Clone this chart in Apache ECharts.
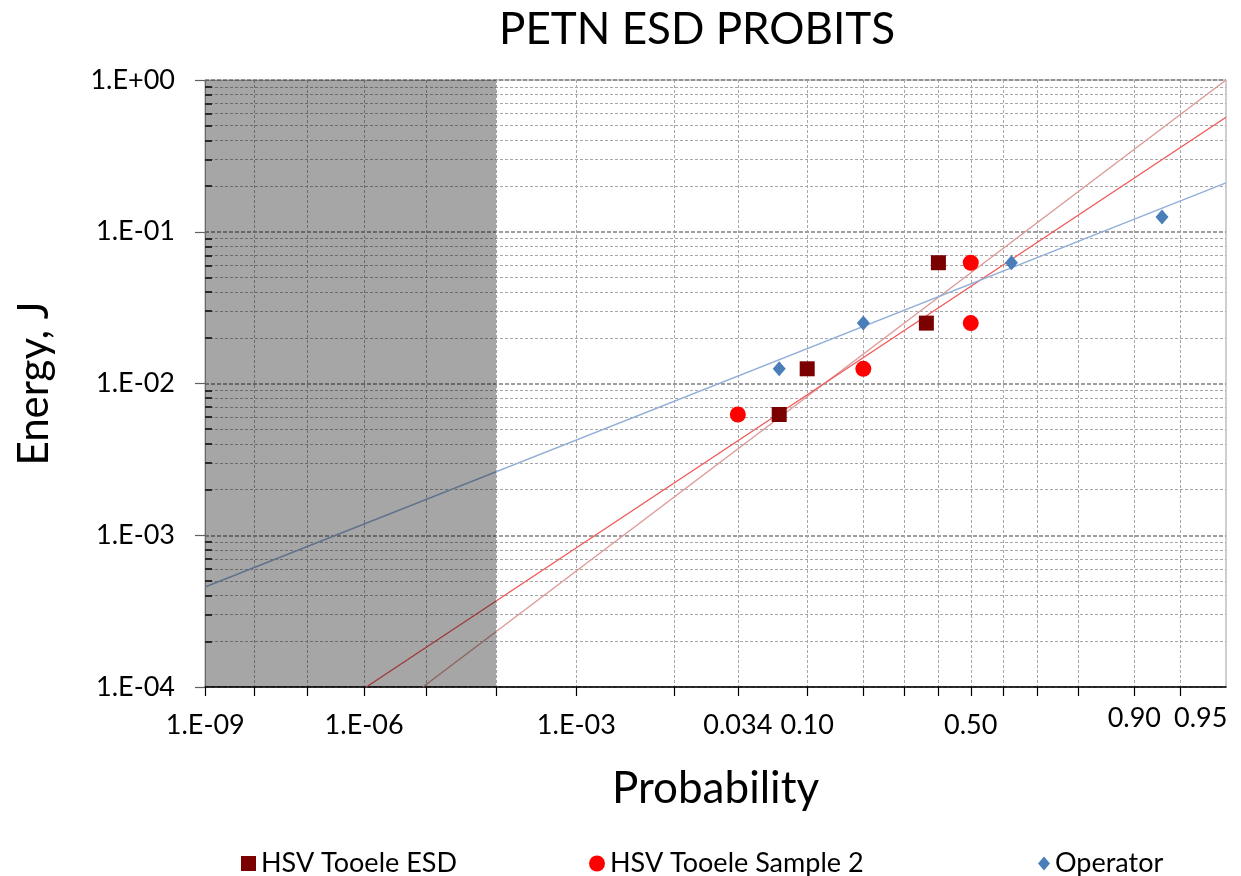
<!DOCTYPE html>
<html>
<head>
<meta charset="utf-8">
<title>PETN ESD PROBITS</title>
<script src="https://cdn.jsdelivr.net/npm/echarts@6/dist/echarts.min.js"></script>
<style>
  html, body { margin: 0; padding: 0; background: #fff; }
  #chart { width: 1241px; height: 876px; }
</style>
</head>
<body>
<div id="chart"></div>
<script>
// measured points: probability of initiation vs. spark energy (J)
var esdProb = [0.0667, 0.10, 0.364, 0.40];
var esdEnergy = [0.00625, 0.0125, 0.025, 0.0625];
var sample2Prob = [0.034, 0.20, 0.50, 0.50];
var sample2Energy = [0.00625, 0.0125, 0.025, 0.0625];
var operatorProb = [0.0667, 0.20, 0.625, 0.933];
var operatorEnergy = [0.0125, 0.025, 0.0625, 0.125];

// probit trend lines, end points (probability, energy)
var esdFitProb = [8.8e-6, 0.97725];
var esdFitEnergy = [1e-4, 1.0];
var sample2FitProb = [1.09e-6, 0.97725];
var sample2FitEnergy = [1e-4, 0.568];
var operatorFitProb = [9.87e-10, 0.97725];
var operatorFitEnergy = [4.56e-4, 0.210];

// shaded (not reachable) probability range
var shadeProb = [9.87e-10, 1e-4];

// x axis ticks / labels (probability)
var xTickProbs = [1e-9, 1e-8, 1e-7, 1e-6, 1e-5, 1e-4, 1e-3, 1e-2, 0.034, 0.1, 0.2, 0.3, 0.4, 0.5, 0.6, 0.7, 0.8, 0.9, 0.95];
var xLabelProbs = [1e-9, 1e-6, 1e-3, 0.034, 0.10, 0.50, 0.90, 0.95];
var xLabelText = ['1.E-09', '1.E-06', '1.E-03', '0.034', '0.10', '0.50', '0.90', '0.95'];

var zMin = -6, zMax = 2;   // probit axis range
var yMin = 1e-4, yMax = 1;

// inverse normal cdf (Acklam)
function probit(p) {
  var a = [-3.969683028665376e+01, 2.209460984245205e+02, -2.759285104469687e+02, 1.383577518672690e+02, -3.066479806614716e+01, 2.506628277459239e+00];
  var b = [-5.447609879822406e+01, 1.615858368580409e+02, -1.556989798598866e+02, 6.680131188771972e+01, -1.328068155288572e+01];
  var c = [-7.784894002430293e-03, -3.223964580411365e-01, -2.400758277161838e+00, -2.549732539343734e+00, 4.374664141464968e+00, 2.938163982698783e+00];
  var d = [7.784695709041462e-03, 3.224671290700398e-01, 2.445134137142996e+00, 3.754408661907416e+00];
  var plow = 0.02425, q, r;
  if (p < plow) {
    q = Math.sqrt(-2 * Math.log(p));
    return (((((c[0]*q+c[1])*q+c[2])*q+c[3])*q+c[4])*q+c[5]) / ((((d[0]*q+d[1])*q+d[2])*q+d[3])*q+1);
  }
  if (p > 1 - plow) {
    q = Math.sqrt(-2 * Math.log(1 - p));
    return -(((((c[0]*q+c[1])*q+c[2])*q+c[3])*q+c[4])*q+c[5]) / ((((d[0]*q+d[1])*q+d[2])*q+d[3])*q+1);
  }
  q = p - 0.5; r = q * q;
  return (((((a[0]*r+a[1])*r+a[2])*r+a[3])*r+a[4])*r+a[5])*q / (((((b[0]*r+b[1])*r+b[2])*r+b[3])*r+b[4])*r+1);
}

function toPoints(probs, energies) {
  return probs.map(function (p, i) { return [probit(p), energies[i]]; });
}

var xTickZ = xTickProbs.map(probit);
var xLabelZ = xLabelProbs.map(probit);

var yMinorTicks = [];
for (var e = -4; e < 0; e++) {
  for (var k = 2; k <= 9; k++) yMinorTicks.push(k * Math.pow(10, e));
}

function xLabel(v) {
  for (var i = 0; i < xLabelZ.length; i++) {
    if (Math.abs(xLabelZ[i] - v) < 1e-6) {
      // Excel set the two right labels a bit higher, last one pushed right
      var p = xLabelProbs[i];
      var tag = p >= 0.95 ? 'last' : (p >= 0.9 ? 'hi' : 'lo');
      return '{' + tag + '|' + xLabelText[i] + '}';
    }
  }
  return '';
}

function yLabel(v) {
  var ex = Math.round(Math.log(v) / Math.LN10);
  var s = Math.abs(ex) < 10 ? '0' + Math.abs(ex) : '' + Math.abs(ex);
  return '1.E' + (ex < 0 ? '-' : '+') + s;
}

var font = 'Lato';
var chart = echarts.init(document.getElementById('chart'));

chart.setOption({
  animation: false,
  backgroundColor: '#fff',
  textStyle: { fontFamily: font },
  title: {
    text: 'PETN ESD PROBITS',
    left: 494,
    top: 3,
    textStyle: { fontSize: 44, fontWeight: 'normal', color: '#000', fontFamily: font }
  },
  grid: {
    left: 205, right: 15, top: 80, bottom: 189,
    show: true, borderColor: '#a0a0a0', borderWidth: 1, backgroundColor: 'transparent'
  },
  legend: [
    { data: ['HSV Tooele ESD'], left: 236, top: 845, itemWidth: 15, itemHeight: 15,
      textStyle: { fontSize: 27, color: '#000', fontFamily: font } },
    { data: ['HSV Tooele Sample 2'], left: 584, top: 845, itemWidth: 16, itemHeight: 16,
      textStyle: { fontSize: 27, color: '#000', fontFamily: font } },
    { data: ['Operator'], left: 1033, top: 845, itemWidth: 12, itemHeight: 14,
      textStyle: { fontSize: 27, color: '#000', fontFamily: font } }
  ],
  xAxis: {
    type: 'value',
    min: zMin, max: zMax,
    name: 'Probability',
    nameLocation: 'middle',
    nameGap: 80,
    nameTextStyle: { fontSize: 44, color: '#000', fontFamily: font },
    axisLine: { show: true, onZero: false, lineStyle: { color: '#000', width: 1.5 } },
    axisTick: { show: true, customValues: xTickZ, length: 9, lineStyle: { color: '#000', width: 1.2 } },
    axisLabel: {
      customValues: xLabelZ,
      formatter: xLabel,
      showMinLabel: true,
      showMaxLabel: true,
      hideOverlap: false,
      margin: 18,
      color: '#000',
      fontSize: 27,
      rich: {
        lo: { fontSize: 27, color: '#000', fontFamily: font, padding: [7, 0, 0, 0] },
        hi: { fontSize: 27, color: '#000', fontFamily: font, padding: [0, 0, 0, 0] },
        last: { fontSize: 27, color: '#000', fontFamily: font, padding: [0, 0, 0, 40] }
      }
    },
    splitLine: { show: true, lineStyle: { color: '#a6a6a6', type: [3, 2], width: 1 } }
  },
  yAxis: [
    {
      type: 'log', logBase: 10,
      min: yMin, max: yMax,
      name: 'Energy, J',
      nameLocation: 'middle',
      nameGap: 150,
      nameTextStyle: { fontSize: 42, color: '#000', fontFamily: font },
      axisLine: { show: true, onZero: false, lineStyle: { color: '#a0a0a0' } },
      axisTick: { show: true, length: 10, lineStyle: { color: '#606060', width: 1.2 } },
      axisLabel: { formatter: yLabel, fontSize: 27, color: '#000', margin: 30 },
      splitLine: { show: true, lineStyle: { color: '#7f7f7f', type: [4, 2], width: 1.6 } }
    },
    {
      type: 'log', logBase: 10,
      min: yMin, max: yMax,
      position: 'left',
      axisLine: { show: false, onZero: false },
      axisLabel: { show: false },
      axisTick: { show: true, inside: true, length: 7, customValues: yMinorTicks,
        lineStyle: { color: '#404040', width: 2 } },
      splitLine: { show: true, lineStyle: { color: '#a6a6a6', type: [3, 2], width: 1 } }
    }
  ],
  series: [
    {
      name: 'ESD fit', type: 'line', silent: true, showSymbol: false, z: 2,
      data: toPoints(esdFitProb, esdFitEnergy),
      lineStyle: { color: '#dc9a98', width: 1.4 }
    },
    {
      name: 'Sample 2 fit', type: 'line', silent: true, showSymbol: false, z: 2,
      data: toPoints(sample2FitProb, sample2FitEnergy),
      lineStyle: { color: '#f05a5a', width: 1.4 }
    },
    {
      name: 'Operator fit', type: 'line', silent: true, showSymbol: false, z: 2,
      data: toPoints(operatorFitProb, operatorFitEnergy),
      lineStyle: { color: '#92afd8', width: 1.4 }
    },
    {
      name: 'HSV Tooele ESD', type: 'scatter', symbol: 'rect', symbolSize: 15, z: 3,
      data: toPoints(esdProb, esdEnergy),
      itemStyle: { color: '#7b0000', opacity: 1 }
    },
    {
      name: 'HSV Tooele Sample 2', type: 'scatter', symbol: 'circle', symbolSize: 16, z: 3,
      data: toPoints(sample2Prob, sample2Energy),
      itemStyle: { color: '#ff0000', opacity: 1 }
    },
    {
      name: 'Operator', type: 'scatter', symbol: 'diamond', symbolSize: [13, 15], z: 3,
      data: toPoints(operatorProb, operatorEnergy),
      itemStyle: { color: '#4a7ebb', opacity: 1 }
    },
    {
      name: 'shade', type: 'line', silent: true, showSymbol: false, z: 5,
      data: [[probit(shadeProb[0]), yMin], [probit(shadeProb[1]), yMin]],
      lineStyle: { opacity: 0 },
      markArea: {
        silent: true,
        z: 5,
        itemStyle: { color: 'rgba(0,0,0,0.35)' },
        data: [[
          { xAxis: probit(shadeProb[0]), yAxis: yMin },
          { xAxis: probit(shadeProb[1]), yAxis: yMax }
        ]]
      }
    }
  ]
});
</script>
</body>
</html>
